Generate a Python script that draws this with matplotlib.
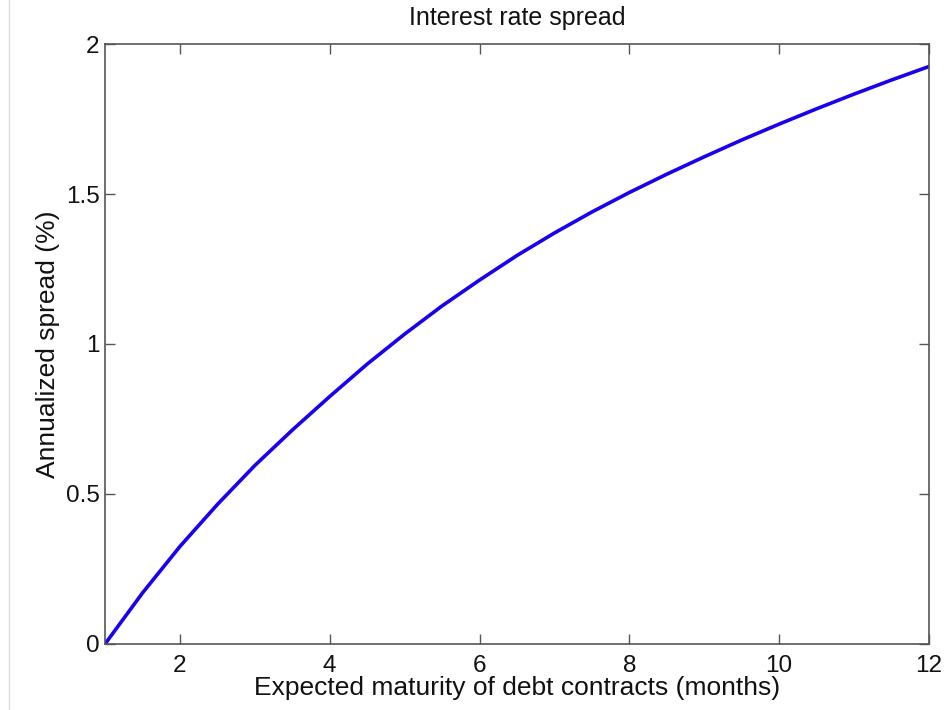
import numpy as np
import matplotlib
matplotlib.use('Agg')
import matplotlib.pyplot as plt
from matplotlib.lines import Line2D

plt.rcParams['font.family'] = ['Liberation Sans', 'DejaVu Sans']

# expected maturity (months) and annualized spread (%)
maturity = [1.0, 1.5, 2.0, 2.5, 3.0, 3.5, 4.0, 4.5, 5.0, 5.5, 6.0, 6.5,
            7.0, 7.5, 8.0, 8.5, 9.0, 9.5, 10.0, 10.5, 11.0, 11.5, 12.0]
spread = [0.0, 0.17, 0.325, 0.465, 0.595, 0.713, 0.825, 0.933, 1.033, 1.127,
          1.213, 1.295, 1.37, 1.44, 1.505, 1.566, 1.624, 1.68, 1.733,
          1.784, 1.833, 1.88, 1.925]

xticks = [2, 4, 6, 8, 10, 12]
yticks = [0, 0.5, 1, 1.5, 2]
yticklabels = ['0', '0.5', '1', '1.5', '2']

fig = plt.figure(figsize=(9.47, 7.10), dpi=100)
ax = fig.add_axes([0.1109, 0.093, 0.870, 0.845])

ax.plot(maturity, spread, color='#1a00f0', linewidth=2.6, solid_capstyle='round',
        solid_joinstyle='round')

ax.set_xlim(1, 12)
ax.set_ylim(0, 2)
ax.set_xticks(xticks)
ax.set_yticks(yticks)
ax.set_yticklabels(yticklabels)

for s in ax.spines.values():
    s.set_color('#555555')
    s.set_linewidth(1.2)
ax.tick_params(direction='in', top=True, right=True, length=7, width=1,
               color='#555555', labelsize=17.5, labelcolor='#111111')
ax.tick_params(axis='x', pad=8)
ax.tick_params(axis='y', pad=4)

ax.set_title('Interest rate spread', fontsize=18, color='#111111', pad=14)
ax.set_xlabel('Expected maturity of debt contracts (months)', fontsize=19,
              color='#111111', labelpad=-1)
ax.set_ylabel('Annualized spread (%)', fontsize=19, color='#111111', labelpad=4)

# faint page edge on the left
fig.add_artist(Line2D([0.0095, 0.0095], [0, 1], transform=fig.transFigure,
                      color='#dddddd', linewidth=1))

fig.savefig('out.png', dpi=100)
